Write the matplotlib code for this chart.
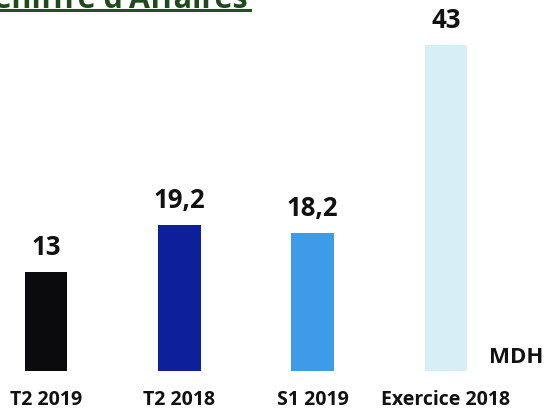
import matplotlib.pyplot as plt

plt.rcParams['font.family'] = ['Open Sans', 'DejaVu Sans']

# data (MDH)
categories = ['T2 2019', 'T2 2018', 'S1 2019', 'Exercice 2018']
values = [13, 19.2, 18.2, 43]
value_labels = ['13', '19,2', '18,2', '43']
bar_colors = ['#0b0b0d', '#0e1f9c', '#3d9be9', '#d6eff6']
title = "Chiffre d'Affaires"
unit = 'MDH'

fig = plt.figure(figsize=(5.44, 4.10), dpi=100)
ax = fig.add_axes([0, 0, 1, 1])
ax.set_xlim(-0.345, 3.736)
ax.set_ylim(-5.02, 49.07)
ax.axis('off')

x = range(len(categories))
ax.bar(x, values, width=0.32, color=bar_colors)

for i, v in enumerate(values):
    ax.text(i, v + 2.4, value_labels[i], ha='center', va='baseline',
            fontsize=18.5, fontweight='bold', color='#111111')
    ax.text(i, -4.3, categories[i], ha='center', va='baseline',
            fontsize=14, fontweight='bold', color='#111111')

ax.text(3.73, 1.2, unit, ha='right', va='baseline', fontsize=16,
        fontweight='bold', color='#111111')

# title sits mostly above the crop, only its lower part shows
fig.text(248 / 544, 1 - 8 / 410, title, ha='right', va='baseline',
         fontsize=22, fontweight='bold', color='#1f4a1c')
fig.add_artist(plt.Line2D([0, 250 / 544], [1 - 11 / 410] * 2,
                          color='#24501f', lw=2.2))

fig.savefig('out.png', dpi=100)
